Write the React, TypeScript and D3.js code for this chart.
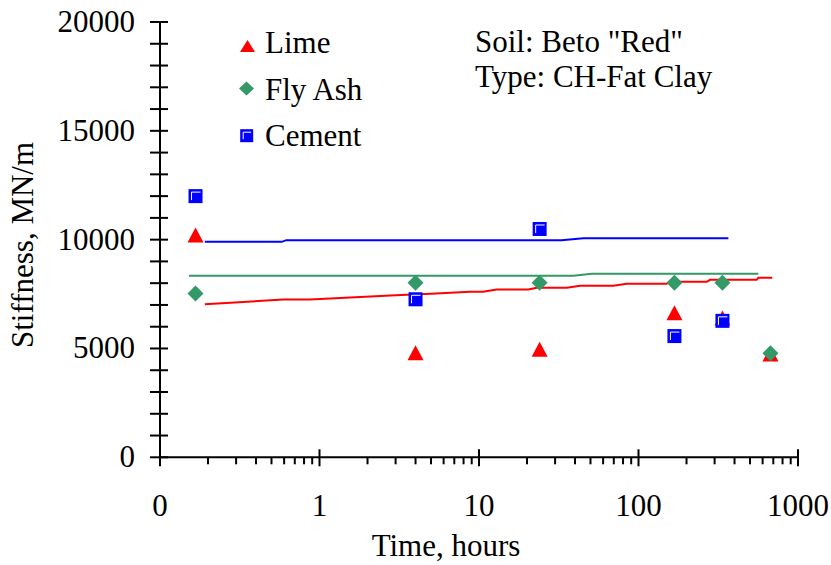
import React from "react";
import * as d3 from "d3";

const W = 831;
const H = 565;

// measured data
const limeTimes = [0.167, 4, 24, 168, 336, 672];
const limeValues = [10210, 4800, 4970, 6640, 6400, 4750];
const flyAshTimes = [0.167, 4, 24, 168, 336, 672];
const flyAshValues = [7530, 8020, 8020, 8020, 8020, 4780];
const cementTimes = [0.167, 4, 24, 168, 336];
const cementValues = [12000, 7260, 10490, 5570, 6270];

// fitted trend lines
const limeFitTimes = [0.191, 0.593, 0.871, 3, 5, 8.79, 10.6, 12.9, 20.4, 23.0, 35.5, 43.0, 69.5, 84.3, 150, 157, 268, 281, 551, 564, 690];
const limeFitValues = [7034, 7250, 7250, 7440, 7520, 7602, 7602, 7709, 7709, 7786, 7786, 7877, 7877, 7969, 7969, 8061, 8061, 8153, 8153, 8245, 8245];
const flyAshFitTimes = [0.152, 39, 51, 564];
const flyAshFitValues = [8337, 8337, 8429, 8429];
const cementFitTimes = [0.191, 0.58, 0.62, 33, 45, 366];
const cementFitValues = [9900, 9900, 9977, 9977, 10069, 10069];

const xMajorTicks = [0.1, 1, 10, 100, 1000];
const xTickLabels = ["0", "1", "10", "100", "1000"];
const yTicks = [0, 5000, 10000, 15000, 20000];
const legendNames = ["Lime", "Fly Ash", "Cement"];
const notes = ['Soil: Beto "Red"', "Type: CH-Fat Clay"];

const RED = "#FF0000";
const GREEN = "#339966";
const BLUE = "#0000FF";
const FONT = "Liberation Serif, Tinos, DejaVu Serif, serif";
const FS = 31;

const x = d3.scaleLog().domain([0.1, 1000]).range([160, 798]);
const y = d3.scaleLinear().domain([0, 20000]).range([457.3, 22]);

const line = d3
  .line<[number, number]>()
  .x((d) => x(d[0]))
  .y((d) => y(d[1]));

function zip(a: number[], b: number[]): [number, number][] {
  return a.map((t, i) => [t, b[i]]);
}

function Triangle({ cx, cy, w = 16, h = 15 }: { cx: number; cy: number; w?: number; h?: number }) {
  const p = `M${cx},${cy - h / 2} L${cx + w / 2},${cy + h / 2} L${cx - w / 2},${cy + h / 2} Z`;
  return <path d={p} fill={RED} />;
}
function Diamond({ cx, cy, w = 16, h = 16 }: { cx: number; cy: number; w?: number; h?: number }) {
  const p = `M${cx},${cy - h / 2} L${cx + w / 2},${cy} L${cx},${cy + h / 2} L${cx - w / 2},${cy} Z`;
  return <path d={p} fill={GREEN} />;
}
function Square({ cx, cy, s = 14 }: { cx: number; cy: number; s?: number }) {
  const x0 = cx - s / 2;
  const y0 = cy - s / 2;
  return (
    <g>
      <rect x={x0} y={y0} width={s} height={s} fill={BLUE} />
      <path
        d={`M${x0 + 3},${y0 + s - 3} L${x0 + 3},${y0 + 3} L${x0 + s - 2},${y0 + 3}`}
        fill="none"
        stroke="#fff"
        strokeWidth={1}
      />
    </g>
  );
}

export default function App() {
  const minorX: number[] = [];
  for (let dec = 0.1; dec < 1000; dec *= 10) {
    for (let k = 2; k <= 9; k++) minorX.push(dec * k);
  }
  const minorY = d3.range(0, 20001, 1000);

  return (
    <svg width={W} height={H} style={{ display: "block", position: "absolute", left: 0, top: 0 }}>
      <rect width={W} height={H} fill="#fff" />
      {/* axes */}
      <line x1={160} x2={160} y1={y(20000)} y2={y(0)} stroke="#000" strokeWidth={2} />
      <line x1={x(0.1)} x2={x(1000)} y1={y(0)} y2={y(0)} stroke="#000" strokeWidth={2} />
      {minorY.map((v) => (
        <line key={"yt" + v} x1={150} x2={168} y1={y(v)} y2={y(v)} stroke="#000" strokeWidth={2} />
      ))}
      {minorX.map((t, i) => (
        <line key={"xm" + i} x1={x(t)} x2={x(t)} y1={y(0)} y2={y(0) + 7} stroke="#000" strokeWidth={2} />
      ))}
      {xMajorTicks.map((t) => (
        <line key={"xM" + t} x1={x(t)} x2={x(t)} y1={y(0) - 8} y2={y(0) + 9} stroke="#000" strokeWidth={2} />
      ))}
      {yTicks.map((v) => (
        <text key={"yl" + v} x={135} y={y(v) + 10} textAnchor="end" style={{ fontFamily: FONT, fontSize: FS }}>
          {v}
        </text>
      ))}
      {xMajorTicks.map((t, i) => (
        <text key={"xl" + t} x={x(t)} y={516} textAnchor="middle" style={{ fontFamily: FONT, fontSize: FS }}>
          {xTickLabels[i]}
        </text>
      ))}
      <text x={446} y={556} textAnchor="middle" style={{ fontFamily: FONT, fontSize: FS }}>
        Time, hours
      </text>
      <text transform="translate(33,245) rotate(-90)" textAnchor="middle" style={{ fontFamily: FONT, fontSize: FS }}>
        Stiffness, MN/m
      </text>

      {/* fit lines */}
      <path d={line(zip(cementFitTimes, cementFitValues)) || ""} fill="none" stroke={BLUE} strokeWidth={2} />
      <path d={line(zip(flyAshFitTimes, flyAshFitValues)) || ""} fill="none" stroke={GREEN} strokeWidth={2} />
      <path d={line(zip(limeFitTimes, limeFitValues)) || ""} fill="none" stroke={RED} strokeWidth={2} />

      {/* markers */}
      {limeTimes.map((t, i) => (
        <Triangle key={"l" + i} cx={x(t)} cy={y(limeValues[i])} />
      ))}
      {flyAshTimes.map((t, i) => (
        <Diamond key={"f" + i} cx={x(t)} cy={y(flyAshValues[i])} />
      ))}
      {cementTimes.map((t, i) => (
        <Square key={"c" + i} cx={x(t)} cy={y(cementValues[i])} />
      ))}

      {/* legend */}
      <Triangle cx={247.5} cy={46} w={15} h={12} />
      <Diamond cx={246.5} cy={88.5} w={15} h={14} />
      <Square cx={246.7} cy={135.7} s={13} />
      {legendNames.map((n, i) => (
        <text key={n} x={265} y={53.3 + i * 46.3} style={{ fontFamily: FONT, fontSize: FS }}>
          {n}
        </text>
      ))}
      {notes.map((n, i) => (
        <text key={n} x={475} y={51.7 + i * 35} style={{ fontFamily: FONT, fontSize: FS }}>
          {n}
        </text>
      ))}
    </svg>
  );
}
